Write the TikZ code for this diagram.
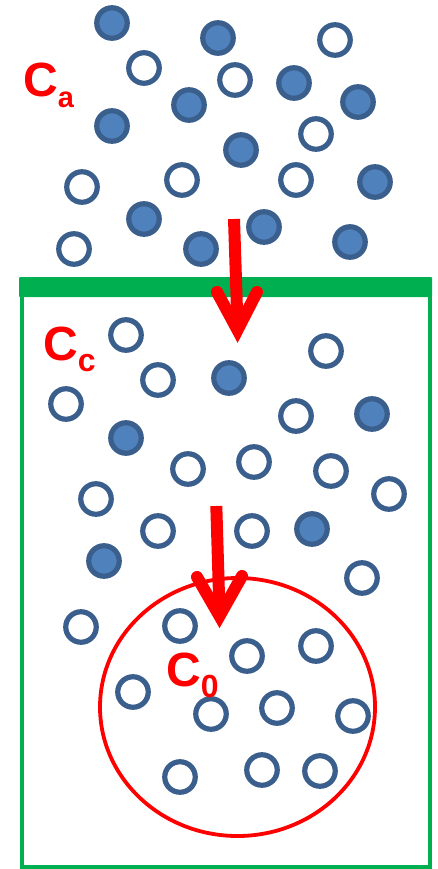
\documentclass[tikz,border=0pt]{standalone}
\usepackage{fontspec}
\setmainfont{Liberation Sans}
\usetikzlibrary{calc}
\definecolor{ballfill}{RGB}{79,129,189}
\definecolor{ballline}{RGB}{58,95,140}
\definecolor{boxgreen}{RGB}{0,176,80}
\definecolor{arrred}{RGB}{255,0,0}
\tikzset{
  ball/.style={circle, draw=ballline, line width=5.2pt, minimum size=30.5pt, inner sep=0pt},
  fullball/.style={ball, fill=ballfill},
  openball/.style={ball, fill=white},
  conclabel/.style={text=arrred, font=\bfseries, anchor=base west, inner sep=0pt},
  redarrow/.style={draw=arrred, line width=12pt},
}
\newcommand{\conc}[2]{{\fontsize{48}{48}\selectfont C}\raisebox{-11pt}{\fontsize{#2}{#2}\selectfont #1}}
\begin{document}
\begin{tikzpicture}[x=1pt,y=-1pt]
\useasboundingbox (0,0) rectangle (437,869);
% green container
\fill[boxgreen, rounded corners=1pt] (19,277) rectangle (432,297);
\draw[boxgreen, line width=4pt] (22,295) -- (22,866.5) -- (430,866.5) -- (430,295);
% cell
\draw[arrred, line width=3.8pt] (237.5,707) ellipse [x radius=137.5pt, y radius=129pt];
% outside particles
\node[fullball] (a1) at (112,23) {};
\node[fullball] (a2) at (218,38) {};
\node[fullball] (a3) at (294,83) {};
\node[fullball] (a4) at (189,105) {};
\node[fullball] (a5) at (358,102) {};
\node[fullball] (a6) at (112,126) {};
\node[fullball] (a7) at (241,150) {};
\node[fullball] (a8) at (375,182) {};
\node[fullball] (a9) at (144,219) {};
\node[fullball] (a10) at (264,227) {};
\node[fullball] (a11) at (201,249) {};
\node[fullball] (a12) at (350,242) {};
\node[openball] (b1) at (335,40) {};
\node[openball] (b2) at (144,68) {};
\node[openball] (b3) at (235,80) {};
\node[openball] (b4) at (316,134) {};
\node[openball] (b5) at (82,187) {};
\node[openball] (b6) at (182,180) {};
\node[openball] (b7) at (296,180) {};
\node[openball] (b8) at (74,249) {};
% particles in the container
\node[openball] (c1) at (126,335) {};
\node[openball] (c2) at (326,351) {};
\node[openball] (c3) at (158,380) {};
\node[openball] (c4) at (66,404) {};
\node[openball] (c5) at (296,416) {};
\node[openball] (c6) at (188,469) {};
\node[openball] (c7) at (254,462) {};
\node[openball] (c8) at (331,471) {};
\node[openball] (c9) at (96,499) {};
\node[openball] (c10) at (389,494) {};
\node[openball] (c11) at (158,531) {};
\node[openball] (c12) at (252,531) {};
\node[openball] (c13) at (362,578) {};
\node[openball] (c14) at (81,627) {};
\node[fullball] (d1) at (229,378) {};
\node[fullball] (d2) at (372,414) {};
\node[fullball] (d3) at (126,438) {};
\node[fullball] (d4) at (312,529) {};
\node[fullball] (d5) at (104,561) {};
% particles in the cell
\node[openball] (e1) at (180,626) {};
\node[openball] (e2) at (247,656) {};
\node[openball] (e3) at (316,646) {};
\node[openball] (e4) at (133,692) {};
\node[openball] (e5) at (211,714) {};
\node[openball] (e6) at (277,708) {};
\node[openball] (e7) at (353,716) {};
\node[openball] (e8) at (180,777) {};
\node[openball] (e9) at (262,770) {};
\node[openball] (e10) at (320,771) {};
% labels
\node[conclabel] (la) at (23,97) {\conc{a}{29}};
\node[conclabel] (lc) at (43,360) {\conc{c}{32}};
\node[conclabel] (l0) at (166,686) {\conc{0}{32}};
% arrows
\coordinate (s1) at (234,219);
\coordinate (t1) at (237.5,330);
\coordinate (p1) at (217,292);
\coordinate (q1) at (257,292);
\draw[redarrow] (s1) -- ($(t1)+(0,-4)$);
\draw[redarrow, line cap=round, line join=miter] (p1) -- (t1) -- (q1);
\coordinate (s2) at (216.3,506);
\coordinate (t2) at (219.5,616);
\coordinate (p2) at (197,577);
\coordinate (q2) at (242,576);
\draw[redarrow] (s2) -- ($(t2)+(0,-4)$);
\draw[redarrow, line cap=round, line join=miter] (p2) -- (t2) -- (q2);
\end{tikzpicture}
\end{document}
